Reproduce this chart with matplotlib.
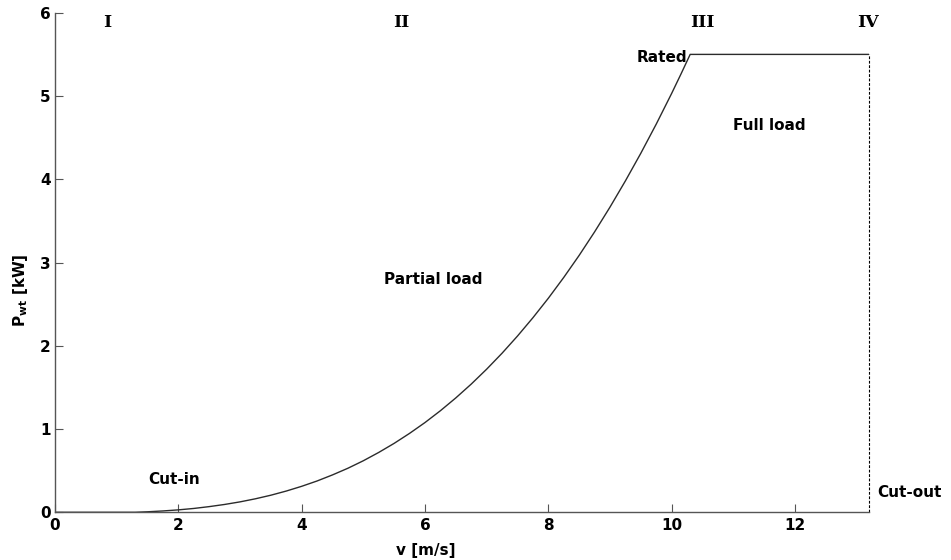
import matplotlib
matplotlib.use("Agg")
import matplotlib.pyplot as plt

# power curve (wind speed in m/s, power in kW)
wind_speed = [0.0, 1.3, 1.5, 1.75, 2.0, 2.25, 2.5, 2.75, 3.0, 3.25, 3.5, 3.75,
              4.0, 4.25, 4.5, 4.75, 5.0, 5.25, 5.5, 5.75, 6.0, 6.25, 6.5, 6.75,
              7.0, 7.25, 7.5, 7.75, 8.0, 8.25, 8.5, 8.75, 9.0, 9.25, 9.5, 9.75,
              10.0, 10.15, 10.3, 13.2]
power = [0.0, 0.0, 0.006, 0.016, 0.029, 0.046, 0.068, 0.094, 0.125, 0.162,
         0.205, 0.255, 0.312, 0.376, 0.449, 0.529, 0.619, 0.719, 0.828, 0.948,
         1.078, 1.220, 1.374, 1.540, 1.719, 1.911, 2.117, 2.337, 2.571, 2.821,
         3.086, 3.368, 3.666, 3.981, 4.313, 4.663, 5.032, 5.263, 5.5, 5.5]
cut_out_speed = 13.2
rated_power = 5.5

region_labels = ["I", "II", "III", "IV"]
region_x = [0.84, 5.62, 10.5, 13.18]

notes = ["Rated", "Full load", "Partial load", "Cut-in", "Cut-out"]
note_x = [9.84, 11.59, 6.13, 1.93, 13.86]
note_y = [5.46, 4.64, 2.80, 0.39, 0.24]

xticks = [0, 2, 4, 6, 8, 10, 12]
yticks = [0, 1, 2, 3, 4, 5, 6]

fig = plt.figure(figsize=(9.51, 5.6), dpi=100)
ax = fig.add_axes([0.0578, 0.0852, 0.856, 0.892])

ax.plot(wind_speed, power, color="#2b2b2b", linewidth=1.0)
ax.plot([cut_out_speed, cut_out_speed], [0, rated_power], color="black",
        linewidth=0.8, linestyle=(0, (2.5, 1.5)), clip_on=False)

ax.set_xlim(0, cut_out_speed)
ax.set_ylim(0, 6)
ax.set_xticks(xticks)
ax.set_yticks(yticks)
ax.tick_params(direction="in", length=5.5, width=0.8, colors="#555555",
               labelcolor="black", labelsize=11)
ax.tick_params(axis="y", pad=3)
ax.tick_params(axis="x", pad=4)
for lab in ax.get_xticklabels() + ax.get_yticklabels():
    lab.set_fontweight("bold")

for side in ["top", "right"]:
    ax.spines[side].set_visible(False)
for side in ["left", "bottom"]:
    ax.spines[side].set_color("#555555")
    ax.spines[side].set_linewidth(1.0)

ax.set_xlabel("v [m/s]", fontsize=11, fontweight="bold")
ax.xaxis.set_label_coords(0.456, -0.062)
ax.set_ylabel(r"P$_{\mathbf{wt}}$ [kW]", fontsize=11, fontweight="bold")
ax.yaxis.set_label_coords(-0.031, 0.445)

for label, x in zip(region_labels, region_x):
    ax.text(x, 5.88, label, ha="center", va="center", fontsize=12.5,
            fontweight="bold", family="DejaVu Serif", clip_on=False)

for label, x, y in zip(notes, note_x, note_y):
    ax.text(x, y, label, ha="center", va="center", fontsize=11,
            fontweight="bold", clip_on=False)

fig.savefig("out.png", dpi=100)
